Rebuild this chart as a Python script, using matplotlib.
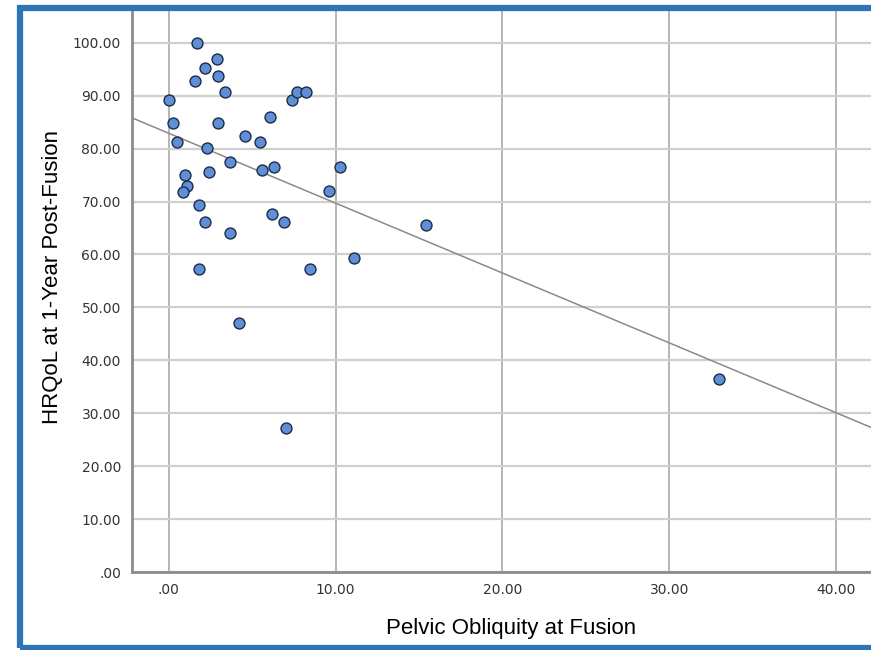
import matplotlib.pyplot as plt
from matplotlib.patches import Rectangle
import numpy as np

# Pelvic obliquity (deg) vs HRQoL
pelvic_obliquity = [0.0, 0.28, 0.5, 1.0, 1.1, 0.86, 1.68, 1.58, 2.2, 2.88,
                    2.98, 3.4, 2.98, 2.28, 2.4, 3.68, 1.8, 2.2, 3.68, 1.8,
                    4.6, 4.2, 5.5, 5.6, 6.1, 6.3, 6.2, 6.9, 7.37, 7.67,
                    8.2, 8.47, 9.6, 10.27, 11.1, 15.4, 7.0, 33.0]
hrqol = [89.1, 84.9, 81.2, 75.0, 73.0, 71.8, 100.0, 92.7, 95.3, 96.9,
         93.7, 90.6, 84.9, 80.2, 75.5, 77.5, 69.3, 66.2, 64.0, 57.3,
         82.3, 47.0, 81.2, 76.0, 85.9, 76.5, 67.7, 66.1, 89.1, 90.6,
         90.6, 57.3, 71.9, 76.5, 59.4, 65.6, 27.3, 36.4]

# fit line as drawn in the original
fit_intercept = 82.9
fit_slope = -1.32

x_ticks = [0, 10, 20, 30, 40]
x_tick_labels = ['.00', '10.00', '20.00', '30.00', '40.00']
y_ticks = [0, 10, 20, 30, 40, 50, 60, 70, 80, 90, 100]
y_tick_labels = ['.00', '10.00', '20.00', '30.00', '40.00', '50.00',
                 '60.00', '70.00', '80.00', '90.00', '100.00']

fig = plt.figure(figsize=(8.71, 6.5), dpi=100)
ax = fig.add_axes([0.1516, 0.12, 0.8484, 0.8631])

xmin, xmax = -2.2, 42.1
ymin, ymax = 0, 106

xl = np.array([xmin, xmax])
ax.plot(xl, fit_intercept + fit_slope * xl, color='#8a8a8a', lw=1.1, zorder=2)

ax.scatter(pelvic_obliquity, hrqol, s=62, facecolor='#5f8fd6',
           edgecolor='#1e2c47', linewidth=1.0, zorder=3)

ax.set_xlim(xmin, xmax)
ax.set_ylim(ymin, ymax)
ax.set_xticks(x_ticks)
ax.set_xticklabels(x_tick_labels)
ax.set_yticks(y_ticks)
ax.set_yticklabels(y_tick_labels)
ax.tick_params(length=0, labelsize=10, colors='#333333', pad=8)

ax.grid(True, axis='y', color='#cfcfcf', lw=1.6, zorder=0)
ax.grid(True, axis='x', color='#b0b0b0', lw=1.3, zorder=0)
ax.set_axisbelow(True)

for sp in ['top', 'right']:
    ax.spines[sp].set_visible(False)
for sp in ['left', 'bottom']:
    ax.spines[sp].set_color('#8c8c8c')
    ax.spines[sp].set_linewidth(2)

ax.set_xlabel('Pelvic Obliquity at Fusion', fontsize=16,
              family='Liberation Sans')
ax.set_ylabel('HRQoL at 1-Year Post-Fusion', fontsize=16,
              family='Liberation Sans')
ax.xaxis.set_label_coords(0.513, -0.082)
ax.yaxis.set_label_coords(-0.094, 0.526)

# blue slide frame round the chart
frame = Rectangle((19.5 / 871, 2.5 / 650), 1.05, 1 - 10 / 650,
                  transform=fig.transFigure, fill=False,
                  edgecolor='#2e75b6', lw=4.5, clip_on=False)
fig.patches.append(frame)

fig.savefig('out.png', dpi=100)
